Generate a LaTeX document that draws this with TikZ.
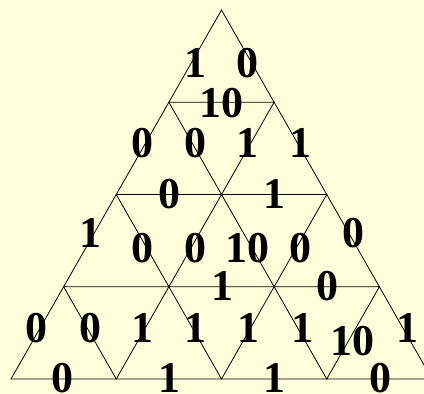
\documentclass[tikz,border=0pt]{standalone}
\usepackage{fontspec}
\setmainfont{Liberation Serif}
\definecolor{bgyellow}{HTML}{FFFFDC}
\begin{document}
\begin{tikzpicture}[x=1pt,y=-1pt,
  edge/.style={draw=black,line width=0.8pt,line join=miter},
  lab/.style={anchor=base,inner sep=0pt,font=\bfseries\fontsize{44}{44}\selectfont}]
\useasboundingbox (0,0) rectangle (424,394);
\fill[bgyellow] (0,0) rectangle (424,394);
\begin{scope}
\clip (0,0) rectangle (424,394);
\foreach \k in {0,...,4}{
  \foreach \j in {0,...,\k}{
    \coordinate (v\k\j) at ({221.5-52.625*\k+105.25*\j},{10+92.25*\k});
  }
}
\foreach \k in {0,...,3}{
  \foreach \j in {0,...,\k}{
    \pgfmathtruncatemacro\kk{\k+1}
    \pgfmathtruncatemacro\jj{\j+1}
    \draw[edge] (v\k\j) -- (v\kk\j) -- (v\kk\jj) -- cycle;
  }
}
% row band 0-1
\node[lab] (a1) at (195,77) {1};
\node[lab] (a2) at (247,77) {0};
\node[lab] (a3) at (221,117) {10};
% row band 1-2
\node[lab] (b1) at (142,157) {0};
\node[lab] (b2) at (195,157) {0};
\node[lab] (b3) at (247,157) {1};
\node[lab] (b4) at (300,157) {1};
\node[lab] (b5) at (169,208) {0};
\node[lab] (b6) at (274,208) {1};
% row band 2-3
\node[lab] (c1) at (90,247) {1};
\node[lab] (c2) at (142,262) {0};
\node[lab] (c3) at (195,262) {0};
\node[lab] (c4) at (247.5,262) {10};
\node[lab] (c5) at (300,262) {0};
\node[lab] (c6) at (353,247) {0};
\node[lab] (c7) at (222,300) {1};
\node[lab] (c8) at (327,300) {0};
% row band 3-4
\node[lab] (d1) at (37,342) {0};
\node[lab] (d2) at (90,342) {0};
\node[lab] (d3) at (142.5,342) {1};
\node[lab] (d4) at (195,342) {1};
\node[lab] (d5) at (248,342) {1};
\node[lab] (d6) at (302,342) {1};
\node[lab] (d7) at (352,355) {10};
\node[lab] (d8) at (407,342) {1};
% base
\node[lab] (e1) at (63,392) {0};
\node[lab] (e2) at (169,392) {1};
\node[lab] (e3) at (274,392) {1};
\node[lab] (e4) at (380,392) {0};
\end{scope}
\end{tikzpicture}
\end{document}
